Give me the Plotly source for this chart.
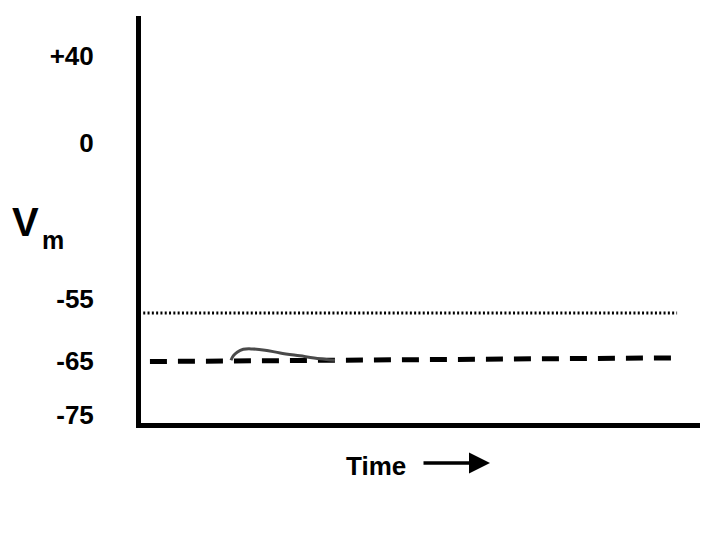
import plotly.graph_objects as go

# ---- data (schematic units: time 0-100, height 0-100) ----
vm_tick_text = ["+40", "0", "-55", "-65", "-75"]
vm_tick_height = [90.1, 68.9, 30.4, 15.3, 2.0]

threshold_time = [0.4, 95.9]
threshold_height = [27.0, 27.0]

rest_time = [1.6, 94.8]
rest_height = [15.1, 16.0]

epsp_time = [16.1, 16.5, 17.2, 18.3, 19.9, 22.2, 24.9, 28.4, 32.0, 34.7]
epsp_height = [15.4, 16.5, 17.4, 18.1, 18.2, 17.9, 17.2, 16.5, 15.8, 15.4]

FONT = "Liberation Sans, Arial, sans-serif"

fig = go.Figure()
fig.add_trace(go.Scatter(x=threshold_time, y=threshold_height, mode="lines",
                         line=dict(color="black", width=3, dash="2px,2.3px"),
                         hoverinfo="skip"))
fig.add_trace(go.Scatter(x=rest_time, y=rest_height, mode="lines",
                         line=dict(color="black", width=5, dash="17px,11px"),
                         hoverinfo="skip"))
fig.add_trace(go.Scatter(x=epsp_time, y=epsp_height, mode="lines",
                         line=dict(color="#4a4a4a", width=3, shape="spline"),
                         hoverinfo="skip"))

fig.update_layout(
    width=720, height=540,
    margin=dict(l=133, r=28, t=8, b=125),
    paper_bgcolor="white", plot_bgcolor="white",
    showlegend=False,
    font=dict(family=FONT, color="black"),
    xaxis=dict(range=[0, 100], showgrid=False, zeroline=False, showticklabels=False,
               showline=True, linecolor="black", linewidth=5, ticks=""),
    yaxis=dict(range=[0, 100], showgrid=False, zeroline=False,
               tickvals=vm_tick_height, ticktext=vm_tick_text,
               tickfont=dict(family=FONT, size=26, color="black", weight="bold"),
               ticklabelstandoff=37,
               showline=True, linecolor="black", linewidth=5, ticks=""),
    annotations=[
        dict(text="<b>V</b>", xref="paper", yref="paper", x=(10 - 141) / 559, y=(423 - 246) / 407,
             xanchor="left", yanchor="bottom", showarrow=False,
             font=dict(family=FONT, size=40, color="black")),
        dict(text="<b>m</b>", xref="paper", yref="paper", x=(40 - 141) / 559, y=(423 - 256) / 407,
             xanchor="left", yanchor="bottom", showarrow=False,
             font=dict(family=FONT, size=25, color="black")),
        dict(text="<b>Time</b>", xref="paper", yref="paper", x=(376 - 141) / 559, y=(423 - 466) / 407,
             xanchor="center", yanchor="middle", showarrow=False,
             font=dict(family=FONT, size=26, color="black")),
        dict(text="", xref="paper", yref="paper", x=(490 - 141) / 559, y=(423 - 463) / 407,
             ax=-68, ay=0, showarrow=True, arrowhead=2, arrowsize=1.2, arrowwidth=3.5,
             arrowcolor="black", standoff=0),
    ],
)

fig.write_html("out.html")
